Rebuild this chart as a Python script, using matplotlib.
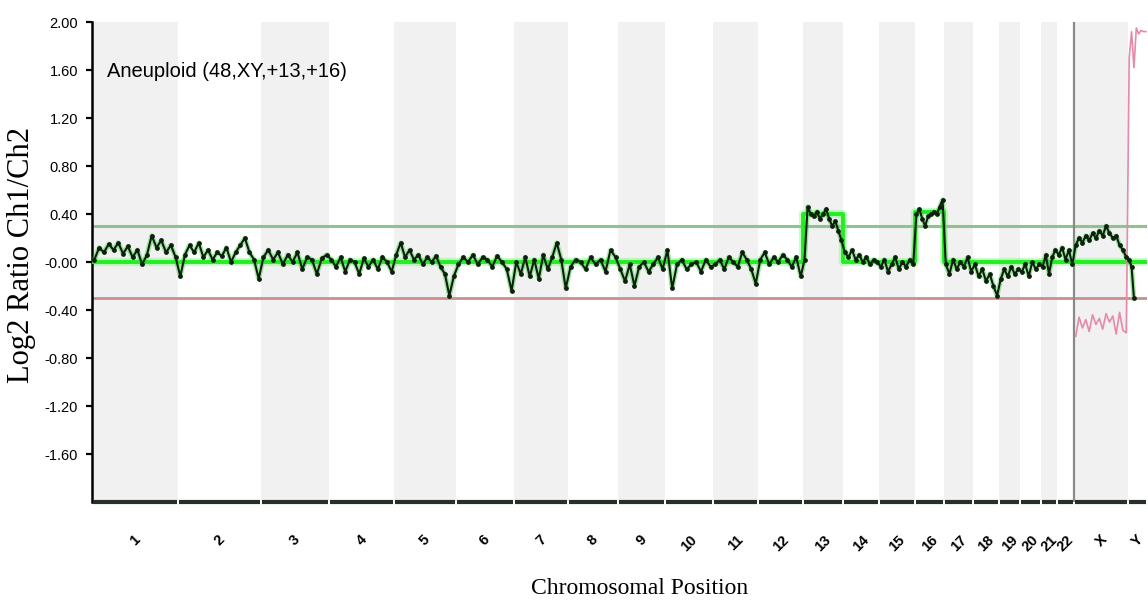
"""
Array CGH profile: aneuploid sample (48,XY,+13,+16).
Log2 ratio Ch1/Ch2 along the genome, chromosome bands alternating grey/white.
"""

import numpy as np
import matplotlib.pyplot as plt

SANS = ["Liberation Sans", "DejaVu Sans"]
SERIF = ["Liberation Serif", "DejaVu Serif"]

chrom_names = [str(i) for i in range(1, 23)] + ["X", "Y"]
# relative chromosome lengths as drawn on the x axis
chrom_sizes = [86, 83, 68, 65, 62, 58, 54, 50, 47, 48, 45, 45,
               40, 36, 36, 29, 29, 26, 21, 21, 16, 17, 54, 19]

# segmentation call per chromosome (bright green line)
segment_levels = [0.0] * 12 + [0.40, 0.0, 0.0, 0.42] + [0.0] * 8

# smoothed log2 ratio per chromosome (black trace)
log2_trace = [
    [0.02, 0.12, 0.08, 0.15, 0.10, 0.16, 0.07, 0.13, 0.04, 0.10, -0.02, 0.06, 0.22, 0.12, 0.18, 0.08, 0.14, 0.04],
    [-0.12, 0.06, 0.14, 0.08, 0.16, 0.04, 0.10, 0.02, 0.08, 0.05, 0.12, 0.00, 0.08, 0.14, 0.20, 0.08, 0.02, -0.14],
    [0.04, 0.10, 0.02, 0.08, -0.02, 0.06, 0.00, 0.08, -0.06, 0.04, 0.02, -0.10, 0.03, 0.06],
    [0.02, -0.04, 0.04, -0.08, 0.02, 0.00, -0.10, 0.03, -0.04, 0.02, -0.06, 0.04, 0.00, -0.08],
    [0.06, 0.16, 0.04, 0.10, 0.02, 0.06, -0.02, 0.04, 0.00, 0.05, -0.04, -0.10, -0.28, -0.12],
    [-0.02, 0.04, 0.00, 0.06, -0.02, 0.04, 0.02, -0.04, 0.05, 0.00, -0.06, -0.24],
    [0.00, -0.10, 0.04, -0.12, 0.02, -0.14, 0.06, -0.06, 0.04, 0.16, 0.02, -0.22],
    [-0.04, 0.02, 0.00, -0.06, 0.04, -0.02, 0.02, -0.08, 0.10, 0.04],
    [-0.06, -0.16, -0.02, -0.20, -0.04, 0.00, -0.08, -0.02, 0.04, -0.06],
    [0.10, -0.22, -0.02, 0.02, -0.06, -0.02, 0.00, -0.08, 0.02, -0.04],
    [-0.02, 0.02, -0.06, 0.04, 0.00, -0.04, 0.08, 0.02, -0.06, -0.18],
    [0.02, 0.08, -0.02, 0.04, 0.00, 0.06, 0.02, -0.04, 0.04, -0.12],
    [0.02, 0.46, 0.40, 0.38, 0.42, 0.36, 0.40, 0.44, 0.36, 0.30, 0.34, 0.26, 0.18],
    [0.08, 0.04, 0.10, 0.02, 0.06, 0.00, 0.04, -0.02, 0.02, 0.00],
    [-0.04, 0.02, -0.08, -0.02, 0.04, -0.06, 0.00, -0.04, 0.02, -0.02],
    [0.40, 0.44, 0.36, 0.30, 0.38, 0.40, 0.42, 0.40, 0.46, 0.52],
    [-0.02, -0.10, 0.02, -0.06, 0.00, -0.04, 0.04, -0.08],
    [-0.02, -0.12, -0.06, -0.16, -0.10, -0.20, -0.28],
    [-0.14, -0.06, -0.12, -0.04, -0.10, -0.06],
    [-0.08, -0.02, -0.12, 0.00, -0.06, -0.02],
    [-0.04, 0.06, -0.10, 0.04, 0.10],
    [0.06, 0.12, 0.02, 0.10, -0.02],
    [0.14, 0.20, 0.16, 0.22, 0.18, 0.24, 0.20, 0.26, 0.22, 0.30, 0.24, 0.20, 0.22, 0.14, 0.10, 0.04],
    [0.02, -0.04, -0.30, np.nan, np.nan, np.nan, np.nan, np.nan],
]

# sex-chromosome trace (pink)
pink_x_values = [-0.62, -0.46, -0.55, -0.48, -0.58, -0.44, -0.52, -0.47,
                 -0.56, -0.43, -0.50, -0.45, -0.60, -0.42, -0.57, -0.59]
pink_y_values = [1.70, 1.92, 1.62, 1.95, 1.90, 1.93, 1.92, 1.92]

y_ticks = [-1.6, -1.2, -0.8, -0.4, 0.0, 0.4, 0.8, 1.2, 1.6, 2.0]
y_tick_labels = ["-1.60", "-1.20", "-0.80", "-0.40", "-0.00",
                 "0.40", "0.80", "1.20", "1.60", "2.00"]
threshold_gain = 0.30
threshold_loss = -0.30


def chrom_positions(sizes):
    ends = np.cumsum(sizes)
    starts = ends - np.asarray(sizes)
    return starts, ends


def spread(start, size, values):
    n = len(values)
    return start + (np.arange(n) + 0.5) / n * size


def main():
    starts, ends = chrom_positions(chrom_sizes)
    total = ends[-1]

    fig = plt.figure(figsize=(11.48, 6.04), dpi=100)
    ax = fig.add_axes([92 / 1148, 102 / 604, 1055 / 1148, 480 / 604])

    # alternating chromosome bands
    for i, (s, e) in enumerate(zip(starts, ends)):
        if i % 2 == 0:
            ax.axvspan(s, e, color="#f1f1f1", lw=0, zorder=0)

    ax.axhline(threshold_gain, color="#8fc28f", lw=2.2, zorder=1)
    ax.axhline(threshold_loss, color="#c98e8e", lw=2.0, zorder=1)
    ax.axvline(starts[chrom_names.index("X")], color="#8a8a8a", lw=1.6, zorder=1)

    # segmentation step line
    seg_x, seg_y = [], []
    for s, e, lvl in zip(starts, ends, segment_levels):
        seg_x += [s, e]
        seg_y += [lvl, lvl]
    ax.plot(seg_x, seg_y, color="#66ff66", lw=6, alpha=0.35, zorder=2)
    ax.plot(seg_x, seg_y, color="#22ee22", lw=2.8, zorder=3)

    # black log2 trace
    tx, ty = [], []
    for s, size, vals in zip(starts, chrom_sizes, log2_trace):
        tx.extend(spread(s, size, vals))
        ty.extend(vals)
    ax.plot(tx, ty, color="#33cc33", lw=3.5, alpha=0.45, zorder=4)
    ax.plot(tx, ty, color="#0d1f0d", lw=1.5, marker="o", ms=2.4, zorder=5)

    # pink trace on X and Y
    ix, iy = chrom_names.index("X"), chrom_names.index("Y")
    px = list(spread(starts[ix], chrom_sizes[ix], pink_x_values)) + \
        list(spread(starts[iy], chrom_sizes[iy], pink_y_values))
    py = pink_x_values + pink_y_values
    ax.plot(px, py, color="#e58aa9", lw=1.2, zorder=4)

    ax.set_xlim(0, total)
    ax.set_ylim(-2.0, 2.0)

    for side in ["top", "right", "bottom"]:
        ax.spines[side].set_visible(False)
    ax.spines["left"].set_linewidth(1.8)

    # segmented bottom axis line
    for s, e in zip(starts, ends):
        ax.plot([s + 0.8, e - 0.8], [-2.0, -2.0], color="#263026", lw=3,
                solid_capstyle="butt", clip_on=False, zorder=6)

    ax.set_yticks(y_ticks)
    ax.set_yticklabels(y_tick_labels, family=SANS, fontsize=10.5)
    ax.tick_params(axis="y", length=4, width=1.6, pad=6)

    centers = (starts + ends) / 2
    ax.set_xticks(centers)
    ax.set_xticklabels(chrom_names, rotation=45, fontsize=10.5, fontweight="bold",
                       family=SANS, ha="center", va="top")
    ax.tick_params(axis="x", length=0, pad=22)

    ax.text(15 / 1055, 0.896, "Aneuploid (48,XY,+13,+16)", transform=ax.transAxes,
            family=SANS, fontsize=14.5, ha="left", va="center", zorder=7)

    fig.text(22 / 1148, 1 - 255 / 604, "Log2 Ratio Ch1/Ch2", rotation=90,
             family=SERIF, fontsize=22, ha="center", va="center")
    fig.text(640 / 1148, 1 - 588 / 604, "Chromosomal Position",
             family=SERIF, fontsize=17, ha="center", va="center")

    fig.savefig("out.png", dpi=100)


if __name__ == "__main__":
    main()
